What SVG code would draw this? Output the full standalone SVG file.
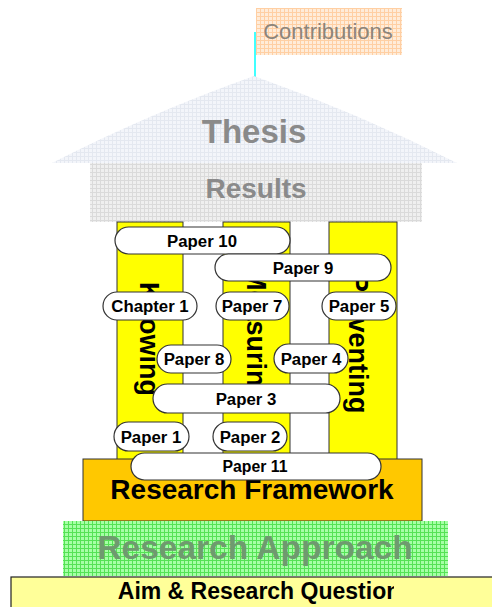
<svg xmlns="http://www.w3.org/2000/svg" width="492" height="607" viewBox="0 0 492 607">
  <defs>
    <!-- fine grid fills -->
    <pattern id="gridPeach" width="4" height="4" patternUnits="userSpaceOnUse">
      <rect width="4" height="4" fill="#ffecd9"/>
      <path d="M0 0.5H4M0.5 0V4" stroke="#ffcfa3" stroke-width="1"/>
    </pattern>
    <pattern id="gridBlue" width="4" height="4" patternUnits="userSpaceOnUse">
      <rect width="4" height="4" fill="#f3f5fa"/>
      <path d="M0 0.5H4M0.5 0V4" stroke="#e4e8f0" stroke-width="1"/>
    </pattern>
    <pattern id="gridGray" width="4" height="4" patternUnits="userSpaceOnUse">
      <rect width="4" height="4" fill="#efefef"/>
      <path d="M0 0.5H4M0.5 0V4" stroke="#dadada" stroke-width="1"/>
    </pattern>
    <pattern id="gridGreen" width="4" height="4" patternUnits="userSpaceOnUse">
      <rect width="4" height="4" fill="#a6ffa6"/>
      <path d="M0 0.5H4M0.5 0V4" stroke="#55e255" stroke-width="1"/>
    </pattern>
    <clipPath id="aimClip">
      <rect x="11" y="577" width="383" height="30"/>
    </clipPath>
  </defs>
  <style>
    text { font-family: "Liberation Sans", Arial, sans-serif; font-weight: bold; text-anchor: middle; }
    .pillar { fill: #ffff00; stroke: #333333; stroke-width: 1; }
    .pillarLabel { font-size: 27px; fill: #000000; text-anchor: start; }
    .paper rect { fill: #ffffff; stroke: #333333; stroke-width: 1.2; }
    .paper text { font-size: 16.8px; fill: #000000; }
    .faded { fill: #8a8a8a; }
  </style>

  <!-- link from the roof up to the contributions box -->
  <g id="connectors">
    <line x1="255" y1="32" x2="255" y2="78" stroke="#00ffff" stroke-width="1.5"/>
  </g>

  <g id="contributions">
    <rect x="256" y="8" width="146" height="47" fill="url(#gridPeach)"/>
    <text x="328" y="39" style="font-weight:normal;font-size:22px;fill:#8c857c">Contributions</text>
  </g>

  <g id="thesis">
    <path d="M52 163 Q150 113 254 76 Q358 113 457 163 Z" fill="url(#gridBlue)"/>
    <text x="254" y="143" class="faded" style="font-size:33px">Thesis</text>
  </g>

  <g id="results">
    <rect x="90" y="163" width="332" height="59" fill="url(#gridGray)"/>
    <text x="256" y="198" class="faded" style="font-size:28px">Results</text>
  </g>

  <!-- three pillars with vertical labels -->
  <g id="pillar-knowing">
    <rect class="pillar" x="117" y="222" width="66" height="240"/>
    <text class="pillarLabel" transform="translate(140 282) rotate(90)">Knowing</text>
  </g>
  <g id="pillar-measuring">
    <rect class="pillar" x="223" y="222" width="67" height="240"/>
    <text class="pillarLabel" transform="translate(247 268) rotate(90)">Measuring</text>
  </g>
  <g id="pillar-preventing">
    <rect class="pillar" x="329" y="222" width="68" height="240"/>
    <text class="pillarLabel" transform="translate(349 274) rotate(90)">Preventing</text>
  </g>

  <g id="framework">
    <rect x="83" y="459" width="339" height="62" fill="#ffc800" stroke="#333333" stroke-width="1"/>
    <text x="252" y="499" style="font-size:28px;fill:#000000">Research Framework</text>
  </g>

  <g id="approach">
    <rect x="63" y="521" width="385" height="55" fill="url(#gridGreen)"/>
    <text x="255" y="559" style="font-size:33.5px;fill:#6f9a6f">Research Approach</text>
  </g>

  <g id="aim">
    <rect x="11" y="577" width="490" height="40" fill="#ffff99" stroke="#222222" stroke-width="1.2"/>
    <text x="259" y="599" clip-path="url(#aimClip)" style="font-size:23px;fill:#000000">Aim &amp; Research Question</text>
  </g>

  <!-- papers and chapters, drawn over the pillars -->
  <g id="paper10" class="paper">
    <rect x="115" y="227" width="175" height="27" rx="13.5"/>
    <text x="202" y="246.5">Paper 10</text>
  </g>
  <g id="paper9" class="paper">
    <rect x="215" y="254" width="176" height="27" rx="13.5"/>
    <text x="303" y="273.5">Paper 9</text>
  </g>
  <g id="chapter1" class="paper">
    <rect x="103" y="292" width="94" height="28" rx="14"/>
    <text x="150" y="312">Chapter 1</text>
  </g>
  <g id="paper7" class="paper">
    <rect x="216" y="292" width="73" height="28" rx="14"/>
    <text x="252" y="312">Paper 7</text>
  </g>
  <g id="paper5" class="paper">
    <rect x="322" y="292" width="74" height="28" rx="14"/>
    <text x="359" y="312">Paper 5</text>
  </g>
  <g id="paper8" class="paper">
    <rect x="157" y="345" width="74" height="28" rx="14"/>
    <text x="194" y="365">Paper 8</text>
  </g>
  <g id="paper4" class="paper">
    <rect x="274" y="344" width="74" height="29" rx="14.5"/>
    <text x="311" y="364.5">Paper 4</text>
  </g>
  <g id="paper3" class="paper">
    <rect x="153" y="384" width="187" height="29" rx="14.5"/>
    <text x="246" y="404.5">Paper 3</text>
  </g>
  <g id="paper1" class="paper">
    <rect x="114" y="422" width="75" height="29" rx="14.5"/>
    <text x="151" y="442.5">Paper 1</text>
  </g>
  <g id="paper2" class="paper">
    <rect x="213" y="422" width="74" height="29" rx="14.5"/>
    <text x="250" y="442.5">Paper 2</text>
  </g>
  <g id="paper11" class="paper">
    <rect x="131" y="453" width="250" height="27" rx="13.5"/>
    <text x="255" y="472" style="font-size:15.8px">Paper 11</text>
  </g>
</svg>
